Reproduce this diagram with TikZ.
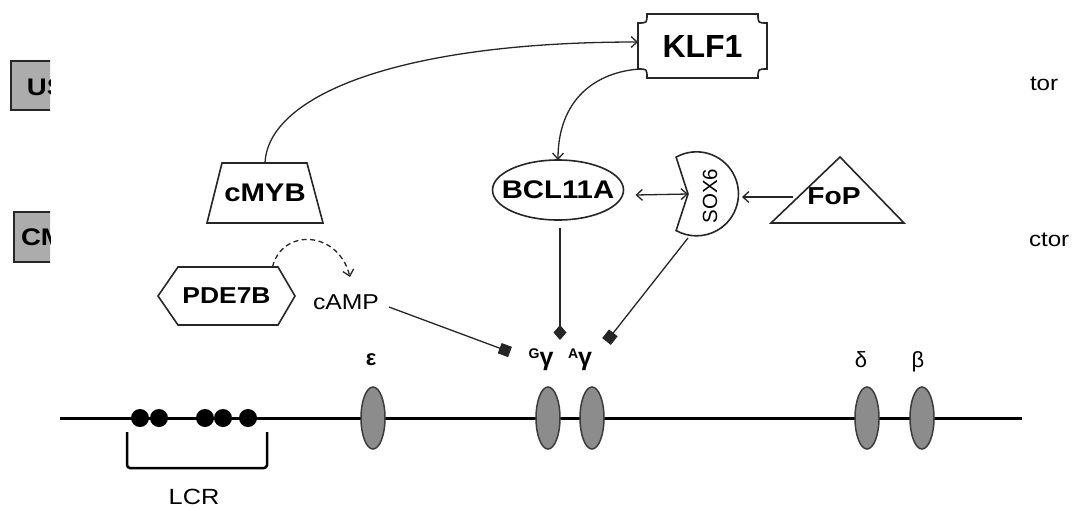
\documentclass[tikz,border=0pt]{standalone}
\usepackage{fontspec}
\setmainfont{Liberation Sans}
\newfontfamily\wide{Liberation Sans}[FakeStretch=1.15]
\usetikzlibrary{shapes.geometric,arrows.meta,calc}
\definecolor{boxgray}{RGB}{172,172,172}
\definecolor{genegray}{RGB}{140,140,140}
\definecolor{geneedge}{RGB}{60,60,60}
\tikzset{
  every node/.style={inner sep=0pt, outer sep=0pt},
  lbl/.style={font=\wide\bfseries\fontsize{#1}{#1}\selectfont},
  plain/.style={font=\wide\fontsize{#1}{#1}\selectfont},
  outline/.style={line width=1.6pt, draw=black!85},
  conn/.style={line width=1.3pt, draw=black!85},
  barb/.tip={Straight Barb[length=6pt,width=11pt]},
  arr/.style={conn, -barb},
  sqend/.style={conn, -{Square[length=11pt,width=11pt]}},
  dmend/.style={conn, -{Diamond[length=15pt,width=13pt]}},
  gene/.style={ellipse, draw=geneedge, fill=genegray, line width=1.5pt, minimum width=24pt, minimum height=62pt},
}
\begin{document}
\begin{tikzpicture}[x=1pt,y=-1pt]
\useasboundingbox (0,0) rectangle (1075,509);
\fill[white] (0,0) rectangle (1075,509);

% left truncated boxes
\begin{scope}
\clip (0,0) rectangle (50,509);
\fill[boxgray] (11,61) rectangle (60,110);
\draw[outline] (60,61) -- (11,61) -- (11,110) -- (60,110);
\node[lbl=24, anchor=base west] (usbox) at (27,95) {US};
\fill[boxgray] (14,212) rectangle (60,262);
\draw[outline] (60,212) -- (14,212) -- (14,262) -- (60,262);
\node[lbl=24, anchor=base west] (cmbox) at (21,245) {CM};
\end{scope}

% right truncated texts
\node[plain=21, anchor=base west] (tor1) at (1030,90) {tor};
\node[plain=21, anchor=base west] (tor2) at (1029,246) {ctor};

% KLF1
\draw[outline] (647,14) -- (758,14) .. controls (758,23) .. (767,23) -- (767,69)
  .. controls (758,69) .. (758,78) -- (647,78) .. controls (647,69) .. (638,69)
  -- (638,23) .. controls (647,23) .. (647,14) -- cycle;
\node[font=\bfseries\fontsize{32}{32}\selectfont, minimum width=129pt, minimum height=64pt] (KLF1) at (702.5,46) {KLF1};

% cMYB
\draw[outline] (222,163) -- (307,163) -- (323,223) -- (207,223) -- cycle;
\node[lbl=25.5, minimum width=100pt, minimum height=60pt] (cMYB) at (265,193) {cMYB};

% PDE7B
\draw[outline] (158,296) -- (178,267) -- (278,267) -- (295,296) -- (278,325) -- (178,325) -- cycle;
\node[lbl=23, minimum width=137pt, minimum height=58pt] (PDE7B) at (226.5,296) {PDE7B};

% cAMP
\node[plain=21.5] (cAMP) at (346,302) {cAMP};

% BCL11A
\draw[outline] (558,190) ellipse [x radius=65.5, y radius=30];
\node[lbl=25.5, minimum width=131pt, minimum height=60pt] (BCL11A) at (558,190) {BCL11A};

% SOX6
\draw[outline] (688,194) -- (676.1,157.1) arc[start angle=241, end angle=479, radius=42] -- cycle;
\node[font=\fontsize{20.5}{20.5}\selectfont, rotate=90] (SOX6) at (710,196) {SOX6};
\coordinate (soxnotch) at (688,194);
\coordinate (soxright) at (742,197);
\coordinate (soxbot) at (688,238);

% FoP
\draw[outline] (771,223) -- (904,223) -- (840,157) -- cycle;
\node[lbl=24.5] (FoP) at (834,196) {FoP};
\coordinate (fopleft) at (793,197);

% chromosome
\draw[line width=3pt] (60,418) -- (1022,418);
\foreach \x in {140,159,205,223,248} \fill (\x,418) circle[radius=9];
\draw[line width=2.5pt, rounded corners=3pt] (127,432) -- (127,468) -- (267,468) -- (267,432);
\node[plain=22] (LCR) at (194,497) {LCR};

\node[gene] (eps) at (373,418) {};
\node[gene] (Gg) at (548,418) {};
\node[gene] (Ag) at (592,418) {};
\node[gene] (delta) at (867,418) {};
\node[gene] (beta) at (922,418) {};

\node[font=\bfseries\fontsize{22}{22}\selectfont, anchor=base] (leps) at (371,365) {ε};
\node[font=\bfseries\fontsize{25}{25}\selectfont, anchor=base] (lGg) at (541,365) {\raisebox{7pt}{\fontsize{14}{14}\selectfont G}γ};
\node[font=\bfseries\fontsize{25}{25}\selectfont, anchor=base] (lAg) at (580,365) {\raisebox{7pt}{\fontsize{14}{14}\selectfont A}γ};
\node[font=\fontsize{22}{22}\selectfont, anchor=base] (ldelta) at (861,367) {δ};
\node[font=\fontsize{22}{22}\selectfont, anchor=base] (lbeta) at (918,367) {β};

% target points
\coordinate (tcamp) at (510,352);
\coordinate (tbcl) at (560,340);
\coordinate (tsox) at (606.5,341.5);

% connectors
\draw[arr] (cMYB.north) .. controls (268,95) and (400,42) .. ($(KLF1.west)+(0,-4)$);
\draw[arr] ($(KLF1.south west)+(2,-9)$) .. controls (595,72) and (558,100) .. (BCL11A.north);
\draw[arr, dashed, dash pattern=on 5pt off 3.5pt] ($(PDE7B.north)+(46,0)$) .. controls (282,228) and (338,230) .. (350,277);
\draw[sqend] ($(cAMP.east)+(10,5)$) -- (tcamp);
\draw[dmend] ($(BCL11A.south)+(2,8)$) -- (tbcl);
\draw[conn, barb-barb] ($(BCL11A.east)+(12,5)$) -- (soxnotch);
\draw[arr] (fopleft) -- (soxright);
\draw[sqend] (soxbot) -- (tsox);
\end{tikzpicture}
\end{document}
